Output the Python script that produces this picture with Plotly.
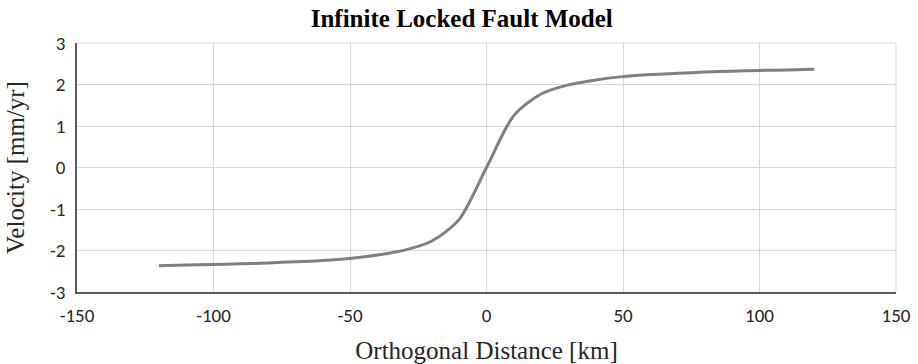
import plotly.graph_objects as go

distance_km = [-120, -110, -100, -90, -80, -70, -60, -50, -40, -30, -20, -10, 0,
               10, 20, 30, 40, 50, 60, 70, 80, 90, 100, 110, 120]
velocity_mm_yr = [-2.37, -2.35, -2.34, -2.32, -2.30, -2.27, -2.24, -2.19, -2.11, -1.99, -1.77, -1.25, 0.0,
                  1.25, 1.77, 1.99, 2.11, 2.19, 2.24, 2.27, 2.30, 2.32, 2.34, 2.35, 2.37]

x_ticks = [-150, -100, -50, 0, 50, 100, 150]
y_ticks = [-3, -2, -1, 0, 1, 2, 3]

serif = "Liberation Serif, Times New Roman, serif"
sans = "Carlito, Calibri, Liberation Sans, sans-serif"

fig = go.Figure()
fig.add_trace(go.Scatter(
    x=distance_km, y=velocity_mm_yr, mode="lines",
    line=dict(color="#7f7f7f", width=3, shape="spline", smoothing=0.8),
    showlegend=False, hoverinfo="x+y",
))

fig.update_layout(
    width=918, height=364,
    margin=dict(l=77, r=22, t=43, b=72),
    paper_bgcolor="white", plot_bgcolor="white",
    title=dict(text="<b>Infinite Locked Fault Model</b>", x=0.503, xanchor="center",
               y=1 - 18/364, yanchor="middle", yref="container",
               font=dict(family=serif, size=25, color="black")),
    xaxis=dict(range=[-150, 150], tickvals=x_ticks, ticktext=[str(v) for v in x_ticks],
               automargin=False,
               showgrid=True, gridcolor="#d9d9d9", gridwidth=1, zeroline=False,
               showline=True, linecolor="#595959", linewidth=1.5, mirror=False,
               ticks="outside", ticklen=5, tickcolor="rgba(0,0,0,0)",
               tickfont=dict(family=sans, size=19, color="#262626"),
               title=dict(text="Orthogonal Distance [km]", standoff=16,
                          font=dict(family=serif, size=25, color="#262626"))),
    yaxis=dict(range=[-3, 3], tickvals=y_ticks, ticktext=[str(v) for v in y_ticks],
               automargin=False,
               showgrid=True, gridcolor="#d9d9d9", gridwidth=1, zeroline=False,
               showline=True, linecolor="#595959", linewidth=1.5,
               ticks="outside", ticklen=6, tickcolor="rgba(0,0,0,0)",
               tickfont=dict(family=sans, size=19, color="#262626"),
               title=dict(text="Velocity [mm/yr]", standoff=18,
                          font=dict(family=serif, size=25, color="#262626"))),
)

fig.add_shape(type="line", xref="paper", yref="paper", x0=0, x1=1, y0=1, y1=1,
              line=dict(color="#d9d9d9", width=1))
fig.add_shape(type="line", xref="paper", yref="paper", x0=1, x1=1, y0=0, y1=1,
              line=dict(color="#d9d9d9", width=1))

fig.write_html("out.html", config={"displayModeBar": False},
               post_script="document.body.style.margin='0';document.body.style.overflow='hidden';")
